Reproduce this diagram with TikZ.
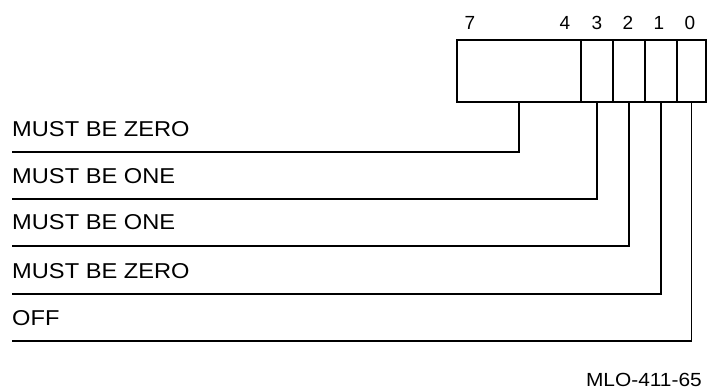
\documentclass[tikz,border=0pt]{standalone}
\usepackage{fontspec}
\setmainfont{Liberation Sans}
\begin{document}
\begin{tikzpicture}[x=1pt,y=-1pt,
  cell/.style={draw=none,minimum height=62pt,inner sep=0pt,outer sep=0pt},
  lbl/.style={anchor=base west,inner sep=0pt,font=\fontsize{21.5}{21.5}\selectfont,xscale=1.1},
  bitno/.style={inner sep=0pt,font=\fontsize{19}{19}\selectfont},
  leader/.style={line width=1.4pt},
  divider/.style={line width=2.8pt},
  frame/.style={line width=1.8pt}]
\useasboundingbox (0,0) rectangle (707,390);
% register cells
\node[cell,minimum width=124pt] (f74) at (519,71) {};
\node[cell,minimum width=32pt] (b3) at (597,71) {};
\node[cell,minimum width=32pt] (b2) at (629,71) {};
\node[cell,minimum width=32pt] (b1) at (661,71) {};
\node[cell,minimum width=29pt] (b0) at (691.5,71) {};
\draw[frame] (f74.north west) rectangle (b0.south east);
\draw[divider] (f74.north east) -- (f74.south east);
\draw[divider] (b3.north east) -- (b3.south east);
\draw[divider] (b2.north east) -- (b2.south east);
\draw[frame] (b1.north east) -- (b1.south east);
% bit numbers
\node[bitno] (n7) at (470,23) {7};
\node[bitno] (n4) at (565,23) {4};
\node[bitno] (n3) at (597,23) {3};
\node[bitno] (n2) at (628,23) {2};
\node[bitno] (n1) at (659,23) {1};
\node[bitno] (n0) at (690,23) {0};
% labels
\node[lbl] (t1) at (12,137) {MUST BE ZERO};
\node[lbl] (t2) at (12,184) {MUST BE ONE};
\node[lbl] (t3) at (12,230) {MUST BE ONE};
\node[lbl] (t4) at (12,279) {MUST BE ZERO};
\node[lbl] (t5) at (12,325) {OFF};
% leader ends
\coordinate (e1) at (12,152);
\coordinate (e2) at (12,199);
\coordinate (e3) at (12,246);
\coordinate (e4) at (12,294);
\coordinate (e5) at (12,341);
\draw[leader] (f74.south) |- (e1);
\draw[leader,line width=2pt] (b3.south) |- (e2);
\draw[leader,line width=1.8pt] (b2.south) |- (e3);
\draw[leader,line width=1.8pt] (b1.south) |- (e4);
\draw[leader,line width=1.8pt] (b0.south) |- (e5);
\node[anchor=base east,inner sep=0pt,font=\fontsize{19}{19}\selectfont,xscale=1.1] (id) at (702,386) {MLO-411-65};
\end{tikzpicture}
\end{document}
